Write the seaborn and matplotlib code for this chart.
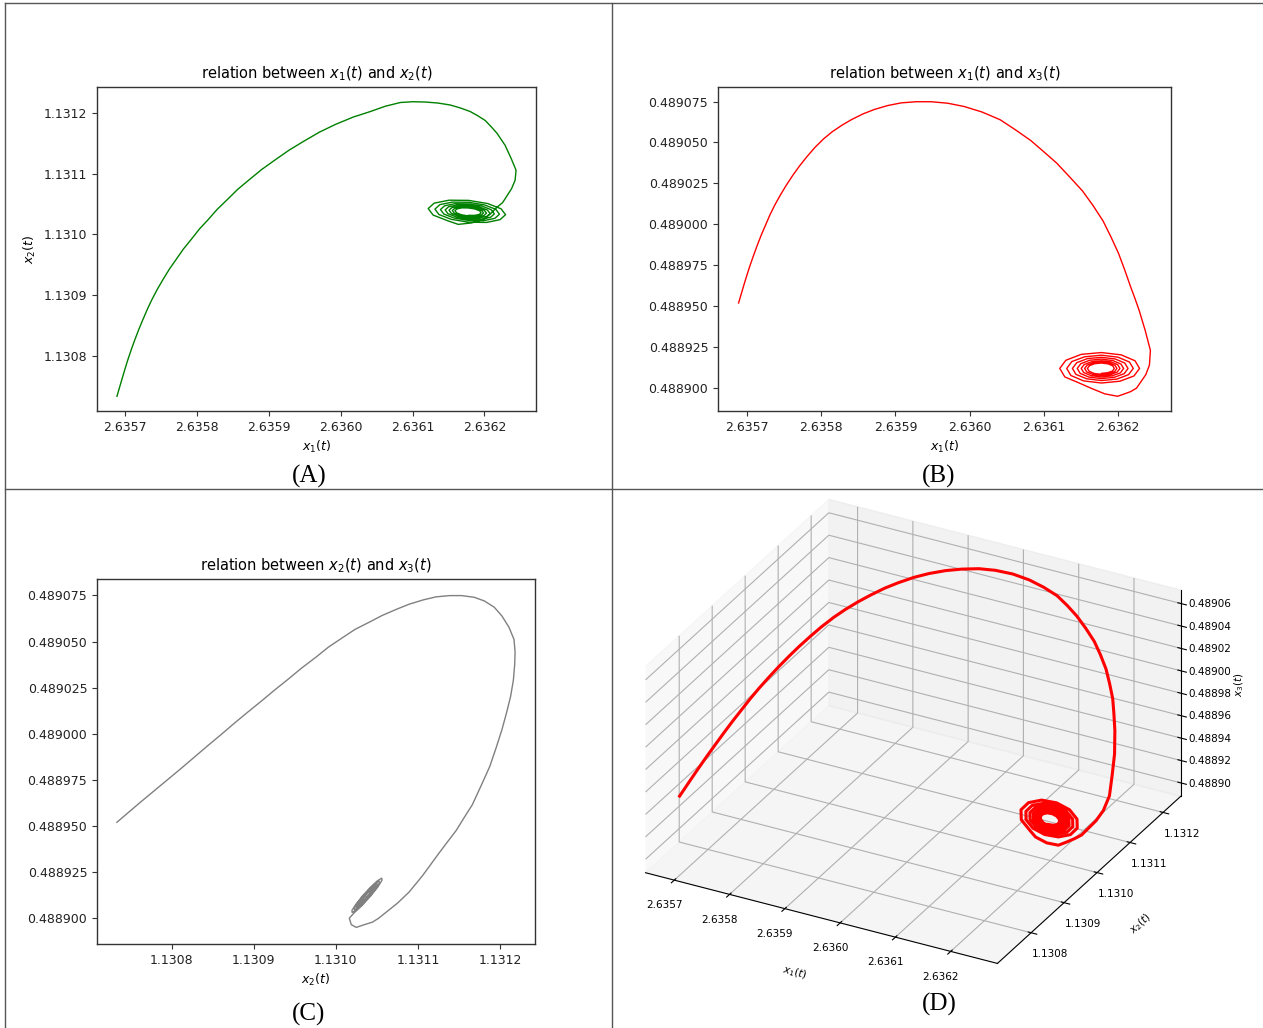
import numpy as np
import pandas as pd
import matplotlib
matplotlib.use("Agg")
import matplotlib.pyplot as plt
import seaborn as sns
from matplotlib.lines import Line2D
from matplotlib.ticker import FormatStrFormatter

# ---------------- data ----------------
# main arc of the trajectory (x1, x2, x3), up to the entry of the spiral
arc_x1 = [2.6356885, 2.6356919, 2.6356954, 2.6356996, 2.6357038, 2.6357086, 2.6357135,
          2.6357190, 2.6357246, 2.6357308, 2.6357371, 2.6357447, 2.6357524, 2.6357614,
          2.6357704, 2.6357808, 2.6357913, 2.6358031, 2.6358149, 2.6358281, 2.6358413,
          2.6358565, 2.6358718, 2.6358899, 2.6359079, 2.6359281, 2.6359482, 2.6359704,
          2.6359926, 2.6360170, 2.6360413, 2.6360621, 2.6360829, 2.6361003, 2.6361176,
          2.6361350, 2.6361524, 2.6361663, 2.6361801, 2.6361906, 2.6362010, 2.6362093,
          2.6362176, 2.6362232, 2.6362288, 2.6362329, 2.6362371, 2.6362406, 2.6362440,
          2.6362427, 2.6362378, 2.6362301, 2.6362253, 2.6362176, 2.6362087, 2.6361997,
          2.6361823, 2.6361635]
arc_x2 = [1.1307333, 1.1307472, 1.1307612, 1.1307779, 1.1307939, 1.1308107, 1.1308267,
          1.1308436, 1.1308595, 1.1308766, 1.1308923, 1.1309095, 1.1309251, 1.1309425,
          1.1309579, 1.1309754, 1.1309907, 1.1310084, 1.1310234, 1.1310411, 1.1310562,
          1.1310739, 1.1310890, 1.1311066, 1.1311218, 1.1311385, 1.1311529, 1.1311682,
          1.1311808, 1.1311928, 1.1312021, 1.1312108, 1.1312169, 1.1312182, 1.1312177,
          1.1312161, 1.1312128, 1.1312080, 1.1312021, 1.1311952, 1.1311874, 1.1311772,
          1.1311661, 1.1311564, 1.1311464, 1.1311359, 1.1311251, 1.1311152, 1.1311054,
          1.1310890, 1.1310751, 1.1310611, 1.1310521, 1.1310447, 1.1310340, 1.1310248,
          1.1310187, 1.1310163]
arc_x3 = [0.4889520, 0.4889573, 0.4889626, 0.4889688, 0.4889747, 0.4889809, 0.4889870,
          0.4889934, 0.4889993, 0.4890058, 0.4890116, 0.4890178, 0.4890236, 0.4890298,
          0.4890355, 0.4890414, 0.4890469, 0.4890522, 0.4890566, 0.4890606, 0.4890641,
          0.4890675, 0.4890702, 0.4890726, 0.4890742, 0.4890749, 0.4890749, 0.4890740,
          0.4890720, 0.4890686, 0.4890639, 0.4890577, 0.4890511, 0.4890443, 0.4890374,
          0.4890290, 0.4890204, 0.4890117, 0.4890021, 0.4889925, 0.4889823, 0.4889722,
          0.4889615, 0.4889547, 0.4889475, 0.4889414, 0.4889350, 0.4889290, 0.4889230,
          0.4889141, 0.4889082, 0.4889032, 0.4889000, 0.4888979, 0.4888964, 0.4888950,
          0.4888965, 0.4889000]

# spiral around the equilibrium: centre and offsets (units of 1e-6)
centre = (2.636178, 1.131037, 0.488912)
sp_d1 = [-29, -49.4, -56.3, -48.0, -27.3, 0, 26.5, 45.2, 51.4, 43.8, 24.9, 0,
         -24.2, -41.3, -46.9, -40.0, -22.8, 0, 22.1, 37.8, 42.9, 36.5, 20.8, 0,
         -20.2, -34.5, -39.2, -33.4, -19.0, 0, 18.4, 31.4, 35.8, 30.6, 17.4, 0,
         -16.9, -28.8, -32.7, -27.9, -15.9, 0, 15.4, 26.2, 29.9, 25.5, 14.5, 0,
         -14.1, -24.0, -27.3, -23.3, -13.2, 0, 12.8, 21.9, 24.9, 21.2, 12.1, 0,
         -11.7, -20.0, -22.7, -19.4, -11.0, 0, 10.7, 18.3, 20.8, 17.8, 10.1, 0,
         -9.8, -16.7, -19.0, -16.2, -9.2, 0, 8.9, 15.2, 17.3, 14.8, 8.4, 0]
sp_d2 = [-14.8, -5.4, 5.3, 14.2, 19.1, 18.8, 13.6, 4.9, -4.8, -12.9, -17.5, -17.2,
         -12.4, -4.5, 4.4, 11.8, 15.9, 15.7, 11.3, 4.1, -4.0, -10.8, -14.6, -14.3,
         -10.3, -3.7, 3.7, 9.9, 13.3, 13.0, 9.5, 3.4, -3.4, -9.0, -12.2, -12.0,
         -8.6, -3.1, 3.1, 8.3, 11.1, 10.9, 7.8, 2.8, -2.8, -7.5, -10.1, -10.0,
         -7.2, -2.6, 2.6, 6.9, 9.3, 9.1, 6.6, 2.4, -2.3, -6.3, -8.4, -8.3,
         -6.0, -2.2, 2.1, 5.7, 7.7, 7.6, 5.5, 2.0, -1.9, -5.2, -7.1, -6.9,
         -5.0, -1.8, 1.8, 4.8, 6.5, 6.3, 4.6, 1.7, -1.6, -4.4, -5.9, -5.8]
sp_d3 = [-9.1, -5.2, 0, 5.0, 8.6, 9.7, 8.3, 4.7, 0, -4.6, -7.8, -8.9,
         -7.6, -4.3, 0, 4.2, 7.1, 8.1, 6.9, 3.9, 0, -3.8, -6.5, -7.4,
         -6.3, -3.6, 0, 3.5, 6.0, 6.8, 5.8, 3.3, 0, -3.2, -5.4, -6.2,
         -5.3, -3.0, 0, 2.9, 5.0, 5.7, 4.8, 2.7, 0, -2.7, -4.5, -5.2,
         -4.4, -2.5, 0, 2.4, 4.1, 4.7, 4.0, 2.3, 0, -2.2, -3.8, -4.3,
         -3.7, -2.1, 0, 2.0, 3.5, 3.9, 3.4, 1.9, 0, -1.9, -3.2, -3.6,
         -3.1, -1.7, 0, 1.7, 2.9, 3.3, 2.8, 1.6, 0, -1.6, -2.6, -3.0]

x1 = arc_x1 + [centre[0] + d * 1e-6 for d in sp_d1]
x2 = arc_x2 + [centre[1] + d * 1e-6 for d in sp_d2]
x3 = arc_x3 + [centre[2] + d * 1e-6 for d in sp_d3]
df = pd.DataFrame({"x1": x1, "x2": x2, "x3": x3, "t": np.arange(len(x1))})

x1_ticks = [2.6357, 2.6358, 2.6359, 2.6360, 2.6361, 2.6362]
x2_ticks = [1.1308, 1.1309, 1.1310, 1.1311, 1.1312]
x3_ticks2d = [0.4889, 0.488925, 0.48895, 0.488975, 0.489, 0.489025, 0.48905, 0.489075]
x3_ticks = [0.48890, 0.48892, 0.48894, 0.48896, 0.48898, 0.48900, 0.48902, 0.48904, 0.48906]

# ---------------- figure ----------------
W, H = 1263, 1028
fig = plt.figure(figsize=(W / 100, H / 100), dpi=100)
fig.patch.set_facecolor("white")

def px_axes(left, top, right, bottom, **kw):
    return fig.add_axes([left / W, 1 - bottom / H, (right - left) / W, (bottom - top) / H], **kw)

TS = 9
def style2d(ax, xfmt, yfmt):
    ax.xaxis.set_major_formatter(FormatStrFormatter(xfmt))
    ax.yaxis.set_major_formatter(FormatStrFormatter(yfmt))
    ax.tick_params(labelsize=TS, length=3.5, width=0.8, color="#333333", labelcolor="#222222")
    for s in ax.spines.values():
        s.set_linewidth(1.0)
        s.set_color("#333333")

# (A)
axA = px_axes(97, 87, 536, 411)
sns.lineplot(data=df, x="x1", y="x2", sort=False, estimator=None, color="green", lw=1.0, ax=axA)
axA.set_xticks(x1_ticks)
axA.set_yticks(x2_ticks)
style2d(axA, "%.4f", "%.4f")
axA.set_title("relation between $x_1(t)$ and $x_2(t)$", fontsize=10.5, pad=6)
axA.set_xlabel("$x_1(t)$", fontsize=TS)
axA.set_ylabel("$x_2(t)$", fontsize=TS)

# (B)
axB = px_axes(718, 87, 1171, 411)
sns.lineplot(data=df, x="x1", y="x3", sort=False, estimator=None, color="red", lw=1.0, ax=axB)
axB.set_xticks(x1_ticks)
axB.set_yticks(x3_ticks2d)
style2d(axB, "%.4f", "%.6f")
axB.set_title("relation between $x_1(t)$ and $x_3(t)$", fontsize=10.5, pad=6)
axB.set_xlabel("$x_1(t)$", fontsize=TS)
axB.set_ylabel("")

# (C)
axC = px_axes(97, 579, 535, 944)
sns.lineplot(data=df, x="x2", y="x3", sort=False, estimator=None, color="grey", lw=1.0, ax=axC)
axC.set_xticks(x2_ticks)
axC.set_yticks(x3_ticks2d)
style2d(axC, "%.4f", "%.6f")
axC.set_title("relation between $x_2(t)$ and $x_3(t)$", fontsize=10.5, pad=6)
axC.set_xlabel("$x_2(t)$", fontsize=TS)
axC.set_ylabel("")

# (D) 3D
axD = px_axes(583, 493, 1230, 983, projection="3d")
axD.plot(df["x1"], df["x2"], df["x3"], color="red", lw=2.2)
axD.set_xticks(x1_ticks)
axD.set_yticks(x2_ticks)
axD.set_zticks(x3_ticks)
axD.set_zlim(0.488888, 0.489072)
axD.xaxis.set_major_formatter(FormatStrFormatter("%.4f"))
axD.yaxis.set_major_formatter(FormatStrFormatter("%.4f"))
axD.zaxis.set_major_formatter(FormatStrFormatter("%.5f"))
axD.tick_params(labelsize=7.5, pad=2)
axD.set_xlabel("$x_1(t)$", fontsize=7.5, labelpad=6)
axD.set_ylabel("$x_2(t)$", fontsize=7.5, labelpad=6)
axD.set_zlabel("$x_3(t)$", fontsize=7.5, labelpad=-1)
axD.set_proj_type("ortho")
axD.view_init(elev=29, azim=-62)
axD.set_box_aspect((4.9, 4.8, 2.9), zoom=1.2)

# panel frame lines
lc = "#555555"
for (xa, ya, xb, yb) in [(612, 3, 612, 1028), (5, 489, 1263, 489), (5, 3, 1263, 3), (5, 3, 5, 1028)]:
    fig.add_artist(Line2D([xa / W, xb / W], [1 - ya / H, 1 - yb / H], color=lc, lw=1.0))

# panel letters
for lab, xc, yc in [("(A)", 309, 476), ("(B)", 939, 476), ("(C)", 309, 1014), ("(D)", 939, 1004)]:
    fig.text(xc / W, 1 - yc / H, lab, ha="center", va="center", fontsize=18,
             family="Liberation Serif", color="black")

fig.savefig("out.png", dpi=100)
